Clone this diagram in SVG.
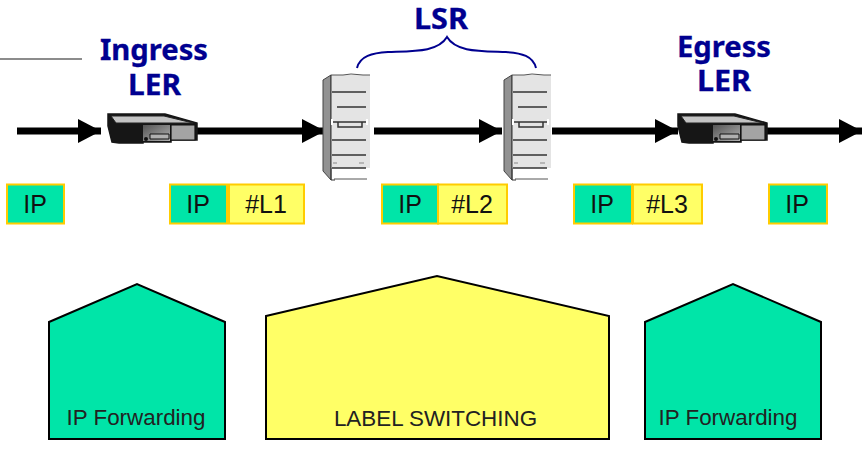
<svg xmlns="http://www.w3.org/2000/svg" width="862" height="451" viewBox="0 0 862 451">
<style>
.t{font-family:"Noto Sans",sans-serif;font-weight:700;fill:#000090;stroke:#000090;stroke-width:.3;font-size:29px;text-anchor:middle}
.l{font-family:"Liberation Sans",Arial,sans-serif;font-size:25px;fill:#111;text-anchor:middle}
.h{font-family:"Liberation Sans",Arial,sans-serif;font-size:22.400px;fill:#222;text-anchor:middle}
.g{fill:#00e5a8;stroke:#ffcc00;stroke-width:2}
.y{fill:#ffff66;stroke:#ffcc00;stroke-width:2}
.w{stroke:#000;stroke-width:2;stroke-linejoin:miter}
.c{stroke:#000;stroke-width:7;fill:none}
.s{stroke:#333;stroke-width:1.500;fill:none}
</style>
<defs>
<linearGradient id="p" x1="0" y1="0" x2="1" y2="1"><stop offset="0" stop-color="#555"/><stop offset="1" stop-color="#b0b0b0"/></linearGradient>
<marker id="a" markerUnits="userSpaceOnUse" markerWidth="24" markerHeight="26" refX="23" refY="13" orient="auto"><path d="M0 1L23 13L0 25Z" fill="#000"/></marker>
<g id="router">
<path d="M1 0H58L90 9V26H64V28H36V29H12L5 28L1 12Z" fill="#161616" stroke="#161616" stroke-width="1.500"/>
<path d="M4 2H57L86 9H9Z" fill="#c4c4c4" stroke="#222" stroke-width="1"/>
<path d="M36 11H63V27H36Z" fill="url(#p)"/>
<path d="M64 11H88V26H64Z" fill="#a4a4a4" stroke="#111" stroke-width="1.200"/>
<path d="M43 20H62V25H43Z" fill="#b0b0b0" stroke="#111" stroke-width="1"/>
<circle cx="39" cy="25" r="2" fill="#111"/>
</g>
<g id="server">
<path d="M0 5L8 0V105L0 96Z" fill="#929292" stroke="#444" stroke-width="1"/>
<path d="M8 0H47V93H8Z" fill="#e4e4e4"/>
<path d="M8 0H20L28 -1L40 0H47M11 104H44" stroke="#555" stroke-width="1" fill="none"/>
<path d="M8 0V105L12 105" stroke="#333" stroke-width="1" fill="none"/>
<path d="M9 17H43M14 32H43M9 47H43M9 65H43M9 80H43M9 93H43" class="s"/>
<path d="M15 47V52H39V47" class="s"/>
<path d="M9 44V50M44 44V50" stroke="#fff" stroke-width="2"/>
<path d="M10 88H14M36 88H41" stroke="#888" stroke-width="1"/>
</g>
</defs>
<g id="decor-line"><path d="M0 59H82" stroke="#666" stroke-width="1.500"/></g>
<g id="connectors">
<path class="c" d="M17 131H101" marker-end="url(#a)"/>
<path class="c" d="M197 131H325" marker-end="url(#a)"/>
<path class="c" d="M374 131H502" marker-end="url(#a)"/>
<path class="c" d="M552 131H678" marker-end="url(#a)"/>
<path class="c" d="M767 131H862" marker-end="url(#a)"/>
</g>
<g id="ingress-ler"><use href="#router" x="107" y="114"/><text class="t" x="154" y="60" textLength="108" lengthAdjust="spacingAndGlyphs">Ingress</text><text class="t" x="154.500" y="95" textLength="53" lengthAdjust="spacingAndGlyphs">LER</text></g>
<g id="lsr-1"><use href="#server" x="323" y="75"/></g>
<g id="lsr-2"><use href="#server" x="504" y="75"/></g>
<g id="egress-ler"><use href="#router" x="677" y="114"/><text class="t" x="724" y="57" textLength="94" lengthAdjust="spacingAndGlyphs">Egress</text><text class="t" x="724" y="91" textLength="54" lengthAdjust="spacingAndGlyphs">LER</text></g>
<g id="lsr-label"><text class="t" x="441" y="29" textLength="54" lengthAdjust="spacingAndGlyphs">LSR</text><path d="M357 68C360 56 372 53 388 52C415 51 438 52 447 37C456 52 479 51 506 52C522 53 533 56 536 68" fill="none" stroke="#000090" stroke-width="2"/></g>
<g id="packet-1"><rect class="g" x="7" y="184.500" width="57" height="39"/><text class="l" x="35" y="213">IP</text></g>
<g id="packet-2"><rect class="g" x="170" y="184.500" width="57" height="39"/><rect class="y" x="229" y="184.500" width="75" height="39"/><text class="l" x="198" y="213">IP</text><text class="l" x="266" y="213">#L1</text></g>
<g id="packet-3"><rect class="g" x="382" y="184.500" width="56" height="39"/><rect class="y" x="438" y="184.500" width="69" height="39"/><text class="l" x="410" y="213">IP</text><text class="l" x="472" y="213">#L2</text></g>
<g id="packet-4"><rect class="g" x="574" y="184.500" width="58" height="39"/><rect class="y" x="633" y="184.500" width="69" height="39"/><text class="l" x="602" y="213">IP</text><text class="l" x="667" y="213">#L3</text></g>
<g id="packet-5"><rect class="g" x="769" y="184.500" width="58" height="39"/><text class="l" x="797" y="213">IP</text></g>
<g id="ingress-forwarding"><path class="w" fill="#00e5a8" d="M49 322L137 284L225 322V439H49Z"/><text class="h" x="136" y="425">IP Forwarding</text></g>
<g id="label-switching"><path class="w" fill="#ffff66" d="M266 316L437 276L609 316V439H266Z"/><text class="h" x="435.500" y="426">LABEL SWITCHING</text></g>
<g id="egress-forwarding"><path class="w" fill="#00e5a8" d="M645 322L733 284L821 322V439H645Z"/><text class="h" x="728" y="425">IP Forwarding</text></g>
</svg>
